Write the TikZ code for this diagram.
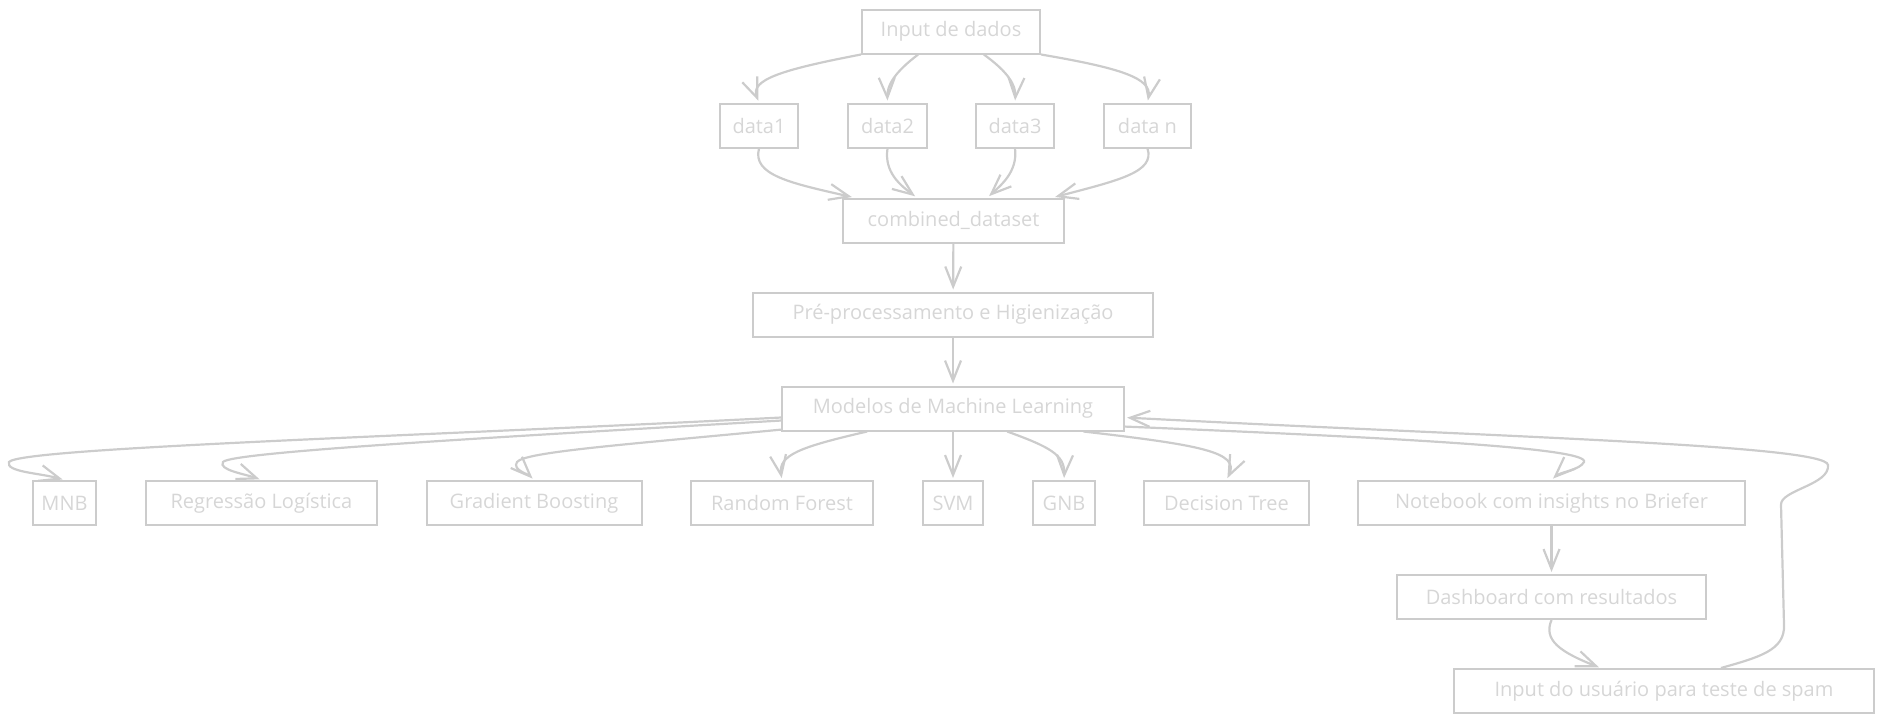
\documentclass[tikz,border=0pt]{standalone}
\usepackage{fontspec}
\setmainfont{Open Sans}
\usepackage{xcolor}
\usepackage{tikz}
\usetikzlibrary{arrows.meta}
\definecolor{sketch}{RGB}{204,204,204}
\tikzstyle{block}=[rectangle,draw=sketch,line width=1pt,text=sketch!105!black,inner sep=0pt,minimum height=22pt,font=\fontsize{10}{12}\selectfont]
\tikzstyle{link}=[draw=sketch,line width=1.1pt,-{Straight Barb[length=10pt,width=8pt]},shorten >=1pt]

\begin{document}
\begin{tikzpicture}[x=0.5pt,y=-0.5pt]
        \useasboundingbox (0,0) rectangle (1883,723);
        \node at ( 951, 31.5) [block,minimum width=89pt] (IN) {Input de dados};
        \node at ( 759,125.5) [block,minimum width=39pt] (D1) {data1};
        \node at ( 887.5,125.5) [block,minimum width=39.5pt] (D2) {data2};
        \node at (1015,125.5) [block,minimum width=39pt] (D3) {data3};
        \node at (1147.5,125.5) [block,minimum width=43.5pt] (DN) {data n};
        \node at ( 953.5,220.5) [block,minimum width=110.5pt] (CD) {combined\_dataset};
        \node at ( 953,314.5) [block,minimum width=200pt] (PP) {Pré-processamento e Higienização};
        \node at ( 953,408.5) [block,minimum width=171pt] (ML) {Modelos de Machine Learning};
        \node at (  64.5,503) [block,minimum width=31.5pt] (MNB) {MNB};
        \node at ( 261.5,503) [block,minimum width=115.5pt] (RL) {Regressão Logística};
        \node at ( 534,503) [block,minimum width=107.5pt] (GB) {Gradient Boosting};
        \node at ( 782,503) [block,minimum width=91pt] (RF) {Random Forest};
        \node at ( 953,503) [block,minimum width=30pt] (SVM) {SVM};
        \node at (1064,503) [block,minimum width=31pt] (GNB) {GNB};
        \node at (1226.5,503) [block,minimum width=82.5pt] (DT) {Decision Tree};
        \node at (1551.5,503) [block,minimum width=193.5pt] (NB) {Notebook com insights no Briefer};
        \node at (1551.5,597) [block,minimum width=154.5pt] (DB) {Dashboard com resultados};
        \node at (1664,691) [block,minimum width=210pt] (US) {Input do usuário para teste de spam};
        % dados de entrada
        \draw [link] (IN.south west) .. controls (780,70) and (750,80) .. (D1.north);
        \draw [link] (IN.215) .. controls (895,72) and (887,85) .. (D2.north);
        \draw [link] (IN.325) .. controls (1008,72) and (1016,85) .. (D3.north);
        \draw [link] (IN.south east) .. controls (1120,68) and (1152,78) .. (DN.north);
        \draw [link] (D1.south) .. controls (752,175) and (790,183) .. (CD.167);
        \draw [link] (D2.south) .. controls (884,172) and (900,185) .. (CD.148);
        \draw [link] (D3.south) .. controls (1018,172) and (1000,186) .. (CD.34);
        \draw [link] (DN.south) .. controls (1155,172) and (1120,180) .. (CD.13);
        \draw [link] (CD) to (PP);
        \draw [link] (PP) to (ML);
        % modelos
        \draw [link] (ML.183) .. controls (400,437) and (20,448) .. (9,462) .. controls (5,472) and (40,473) .. (MNB.north);
        \draw [link] (ML.184) .. controls (500,437) and (230,452) .. (223,462) .. controls (218,470) and (245,474) .. (RL.north);
        \draw [link] (ML.187) .. controls (620,445) and (525,452) .. (517,462) .. controls (512,470) and (528,474) .. (GB.north);
        \draw [link] (ML.195) .. controls (800,447) and (778,455) .. (RF.north);
        \draw [link] (ML) to (SVM);
        \draw [link] (ML.337) .. controls (1050,447) and (1065,455) .. (GNB.north);
        \draw [link] (ML.350) .. controls (1200,445) and (1240,452) .. (DT.north);
        \draw [link] (ML.354) .. controls (1400,438) and (1590,448) .. (1584,462) .. controls (1580,470) and (1560,472) .. (NB.north);
        % resultados
        \draw [link] (NB) to (DB);
        \draw [link] (DB.south) .. controls (1543,640) and (1560,652) .. (US.160);
        \draw [link] (US.22) .. controls (1760,657) and (1785,650) .. (1784,625) -- (1781,505) .. controls (1780,490) and (1830,485) .. (1828,465) .. controls (1826,445) and (1500,437) .. (ML.357);
      \end{tikzpicture}
\end{document}
